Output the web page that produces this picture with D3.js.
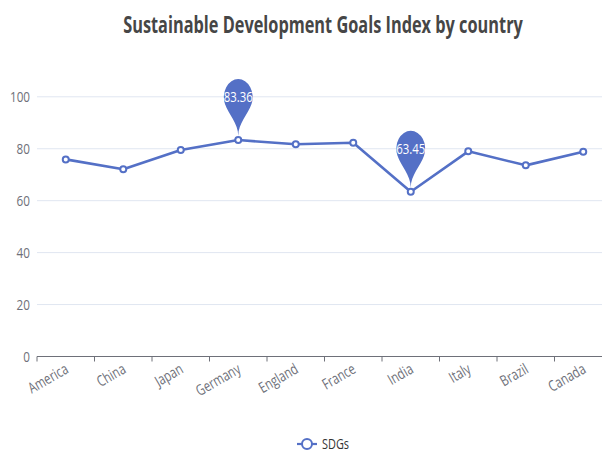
<!DOCTYPE html>
<html>
<head>
<meta charset="utf-8">
<script src="https://cdn.jsdelivr.net/npm/d3@7"></script>
<style>
  html, body { margin: 0; padding: 0; background: #fff; }
  svg { display: block; font-family: "Open Sans", "Noto Sans", sans-serif; }
</style>
</head>
<body>
<svg id="chart" width="602" height="456"></svg>
<script>
// Sustainable Development Goals Index scores
const countries = ["America", "China", "Japan", "Germany", "England", "France", "India", "Italy", "Brazil", "Canada"];
const sdgValues = [75.9, 72.1, 79.5, 83.36, 81.7, 82.3, 63.45, 79.0, 73.6, 78.8];
const yTicks = [0, 20, 40, 60, 80, 100];
const seriesName = "SDGs";
const titleText = "Sustainable Development Goals Index by country";

const color = "#5470c6";
const axisColor = "#6E7079";
const gridColor = "#E0E6F1";

const svg = d3.select("#chart");

// narrow the glyphs of a text element to a fraction of their natural width
function squeeze(sel, k) {
  sel.each(function () {
    const w = this.getComputedTextLength();
    d3.select(this).attr("textLength", w * k).attr("lengthAdjust", "spacingAndGlyphs");
  });
}

const x = d3.scaleBand().domain(countries).range([37, 612]).padding(0);
const y = d3.scaleLinear().domain([0, 100]).range([356.5, 96.8]);

// title, horizontally condensed
const titleG = svg.append("g").attr("transform", "translate(323,33) scale(0.68,1)");
titleG.append("text")
  .attr("text-anchor", "middle")
  .attr("font-size", 24).attr("font-weight", "bold")
  .attr("fill", "#464646")
  .text(titleText);

// horizontal grid lines
svg.append("g").selectAll("line")
  .data(yTicks.filter(d => d !== 0))
  .join("line")
  .attr("x1", 37).attr("x2", 612)
  .attr("y1", d => y(d)).attr("y2", d => y(d))
  .attr("stroke", gridColor).attr("stroke-width", 1);

// y axis labels
const yAxis = svg.append("g")
  .attr("transform", "translate(37,0)")
  .call(d3.axisLeft(y).tickValues(yTicks).tickSize(0).tickPadding(7));
yAxis.select(".domain").remove();
yAxis.selectAll("text")
  .attr("fill", axisColor).attr("font-size", 15)
  .attr("font-family", "\"Open Sans\", sans-serif")
  .call(squeeze, 0.78);

// x axis: line, ticks on band boundaries, rotated labels at band centres
const xAxisG = svg.append("g").attr("transform", `translate(0,${y(0)})`);
xAxisG.append("line")
  .attr("x1", 37).attr("x2", 612)
  .attr("stroke", axisColor).attr("stroke-width", 1);
const boundaries = countries.map(c => x(c)).concat([x.range()[1]]);
xAxisG.selectAll("line.tick")
  .data(boundaries)
  .join("line")
  .attr("class", "tick")
  .attr("x1", d => d).attr("x2", d => d)
  .attr("y1", 0).attr("y2", 5)
  .attr("stroke", axisColor);
xAxisG.selectAll("text")
  .data(countries)
  .join("text")
  .attr("transform", d => `translate(${x(d) + x.bandwidth() / 2 + 1},11) rotate(-30)`)
  .attr("text-anchor", "end")
  .attr("dy", "0.35em")
  .attr("font-size", 15)
  .attr("fill", axisColor)
  .text(d => d)
  .call(squeeze, 0.76);

// line series
const cx = d => x(d) + x.bandwidth() / 2;
const line = d3.line().x((d, i) => cx(countries[i])).y(d => y(d));
svg.append("path")
  .datum(sdgValues)
  .attr("d", line)
  .attr("fill", "none")
  .attr("stroke", color).attr("stroke-width", 2.6)
  .attr("stroke-linejoin", "round");

svg.append("g").selectAll("circle")
  .data(sdgValues)
  .join("circle")
  .attr("cx", (d, i) => cx(countries[i]))
  .attr("cy", d => y(d))
  .attr("r", 3)
  .attr("fill", "#fff")
  .attr("stroke", color).attr("stroke-width", 2);

// pin marker path (tip at 0,0): round head of diameter w, total height h
function pinPath(w, h) {
  const p = d3.path();
  const r = w / 2;
  const dy = r * r / (h - r);
  const cy = -h + r + dy;
  const angle = Math.asin(dy / r);
  const dx = Math.cos(angle) * r;
  const tanX = Math.sin(angle), tanY = Math.cos(angle);
  const cpLen = r * 0.6, cpLen2 = r * 0.7;
  p.moveTo(-dx, cy + dy);
  p.arc(0, cy, r, Math.PI - angle, Math.PI * 2 + angle);
  p.bezierCurveTo(dx - tanX * cpLen, cy + dy + tanY * cpLen, 0, -cpLen2, 0, 0);
  p.bezierCurveTo(0, -cpLen2, -dx + tanX * cpLen, cy + dy + tanY * cpLen, -dx, cy + dy);
  p.closePath();
  return { d: p.toString(), cy: cy };
}

// max and min markers
const maxI = d3.maxIndex(sdgValues);
const minI = d3.minIndex(sdgValues);
const pin = pinPath(36, 64);
const marks = svg.append("g").selectAll("g")
  .data([maxI, minI])
  .join("g")
  .attr("transform", i => `translate(${cx(countries[i])},${y(sdgValues[i]) - 4})`);
marks.append("path")
  .attr("d", pin.d)
  .attr("transform", "scale(0.8,1)")
  .attr("fill", color);
marks.append("text")
  .attr("y", pin.cy)
  .attr("dy", "0.35em")
  .attr("text-anchor", "middle")
  .attr("font-size", 15)
  .attr("fill", "#fff")
  .text(i => sdgValues[i].toFixed(2))
  .call(squeeze, 0.76);

// legend
const lg = svg.append("g").attr("transform", "translate(307,444)");
lg.append("line").attr("x1", -10).attr("x2", 10).attr("stroke", color).attr("stroke-width", 2.2);
lg.append("circle").attr("r", 5).attr("fill", "#fff").attr("stroke", color).attr("stroke-width", 2);
lg.append("text")
  .attr("x", 15).attr("dy", "0.35em")
  .attr("font-size", 14).attr("fill", "#333")
  .text(seriesName)
  .call(squeeze, 0.78);
</script>
</body>
</html>
